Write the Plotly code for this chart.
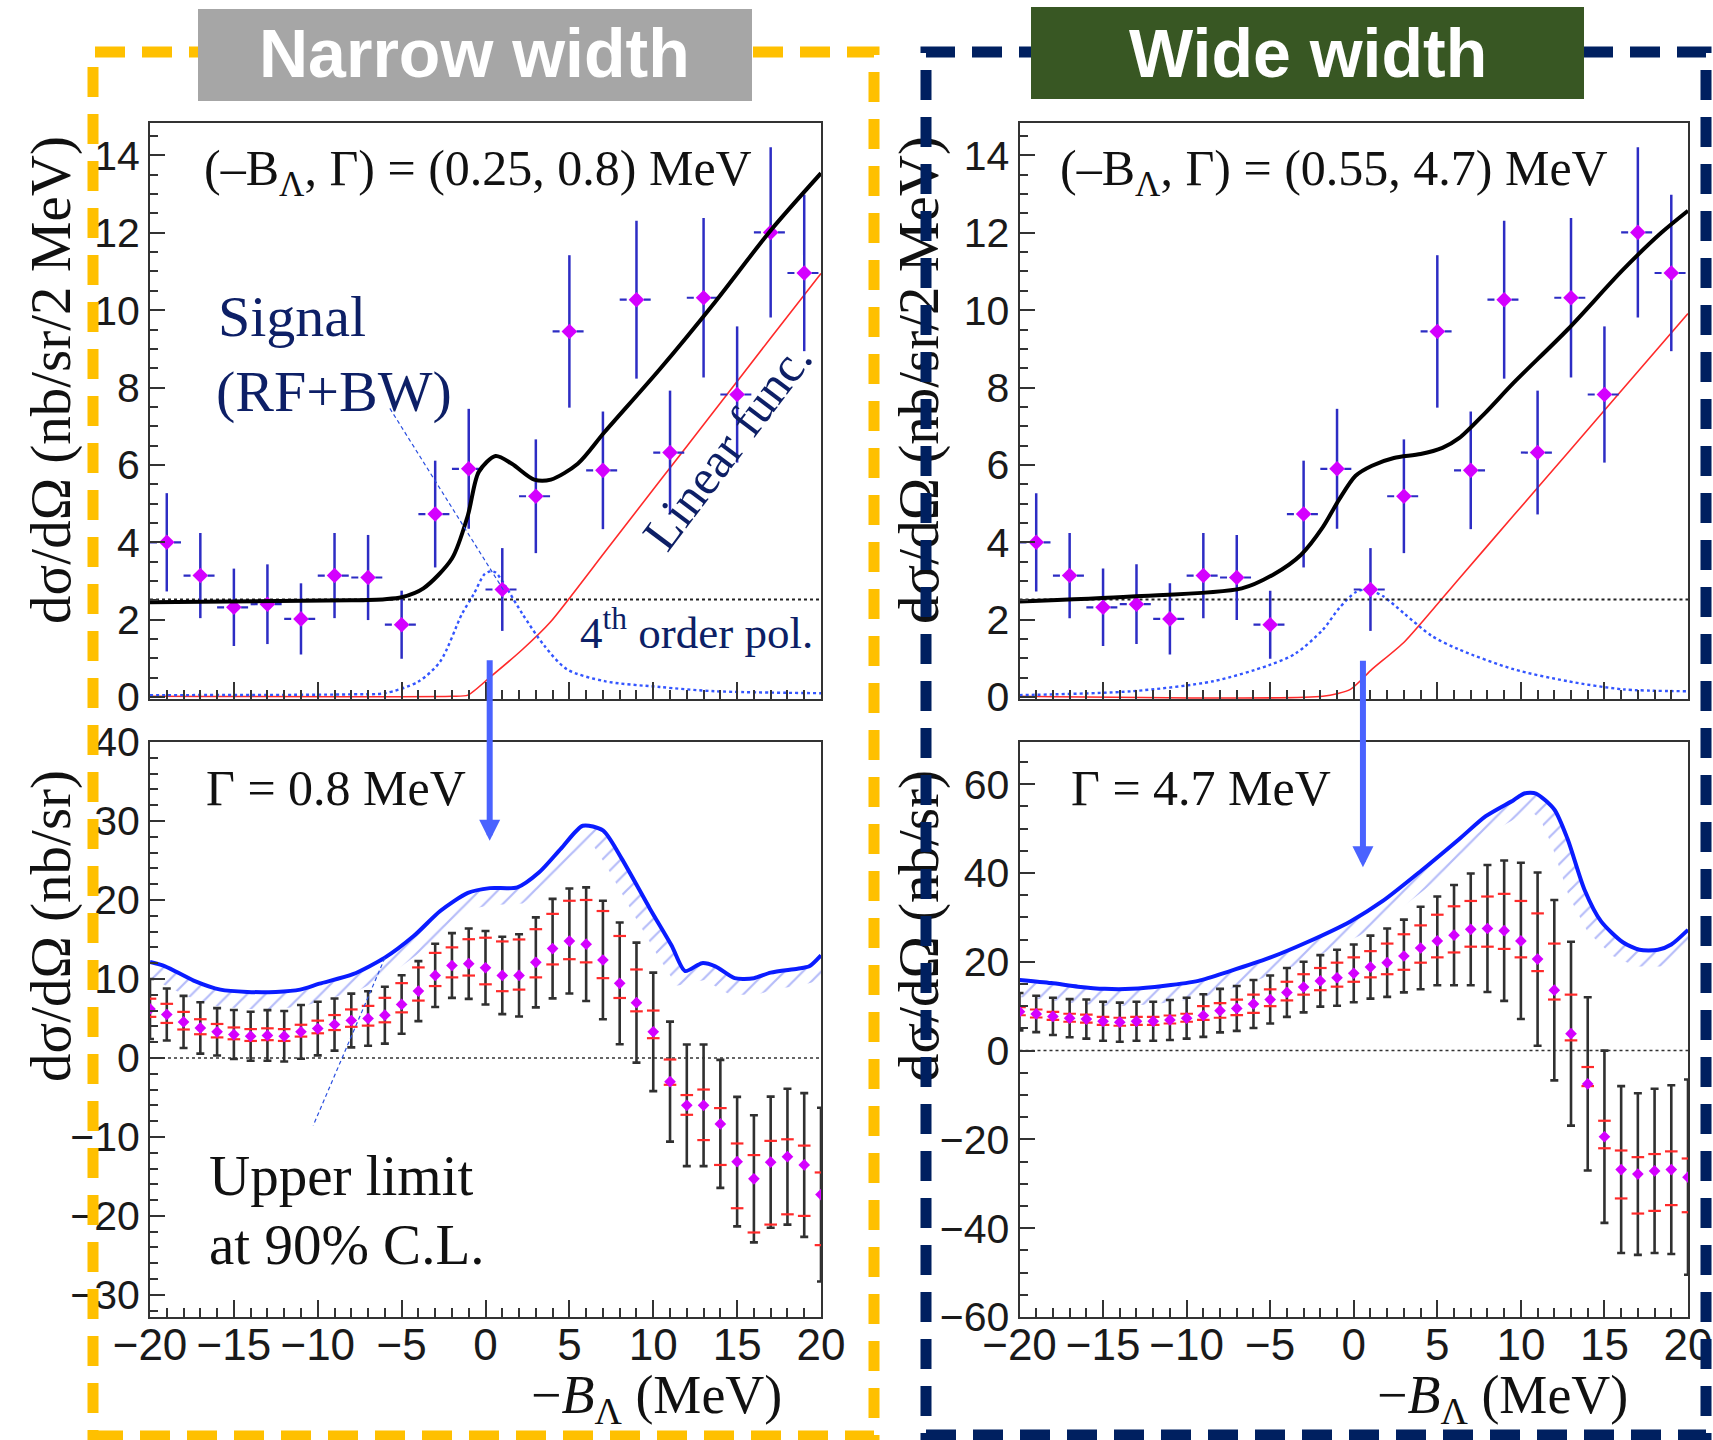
import numpy as np
import plotly.graph_objects as go

W, H = 1713, 1440

# ---------------- measured spectrum (2 MeV bins), same data in both fits
spec_x = [-19, -17, -15, -13, -11, -9, -7, -5, -3, -1, 1, 3, 5, 7, 9, 11, 13, 15, 17, 19]
spec_y = [4.00, 3.14, 2.32, 2.40, 2.02, 3.14, 3.09, 1.87, 4.73, 5.90,
          2.78, 5.19, 9.45, 5.86, 10.27, 6.32, 10.32, 7.82, 12.01, 10.96]
spec_err = [1.27, 1.10, 1.00, 1.03, 0.92, 1.10, 1.10, 0.88, 1.38, 1.55,
            1.07, 1.47, 1.97, 1.52, 2.04, 1.60, 2.06, 1.76, 2.20, 2.02]
bin_half = 1.0

# 4th-order polynomial background (flat over the window)
pol4_x = [-20, 20]
pol4_y = [2.52, 2.52]

# ---------------- narrow-width fit: (-B, Gamma) = (0.25, 0.8) MeV
nw_fit_x = [-20, -8, -6, -5, -3.7, -2.0, -1.05, -0.4, 0.6, 1.57, 2.9, 3.9, 5.5, 7.1, 10.4, 13.7, 17.0, 20]
nw_fit_y = [2.45, 2.50, 2.53, 2.58, 2.81, 3.58, 4.70, 5.82, 6.23, 6.03, 5.62, 5.62, 6.03, 6.85, 8.48, 10.22, 12.06, 13.54]
nw_lin_x = [-20, -2.0, -1.05, 0.26, 2.2, 3.87, 7.15, 10.4, 13.7, 17.0, 20]
nw_lin_y = [0.02, 0.02, 0.05, 0.51, 1.23, 1.94, 3.77, 5.59, 7.43, 9.28, 10.95]
nw_sig_x = [-20, -8, -6, -4, -2.7, -1.4, -0.7, -0.07, 0.3, 0.6, 1.2, 2.2, 3.5, 4.85, 7.1, 10.4, 13.7, 20]
nw_sig_y = [0.05, 0.07, 0.10, 0.40, 0.92, 2.15, 2.66, 3.17, 3.25, 3.22, 2.86, 2.15, 1.33, 0.72, 0.41, 0.26, 0.15, 0.10]

# ---------------- wide-width fit: (-B, Gamma) = (0.55, 4.7) MeV
ww_fit_x = [-20, -13.3, -6.7, -4.8, -3.15, -1.85, -0.87, 0.11, 1.09, 2.4, 4.0, 5.3, 6.3, 7.9, 9.56, 12.8, 16.1, 18.4, 20]
ww_fit_y = [2.47, 2.60, 2.81, 3.17, 3.68, 4.39, 5.11, 5.72, 5.98, 6.18, 6.28, 6.44, 6.69, 7.36, 8.12, 9.50, 11.04, 12.00, 12.57]
ww_lin_x = [-20, -1.85, -0.2, 1.1, 3.04, 6.3, 9.56, 12.8, 16.1, 20]
ww_lin_y = [0.02, 0.02, 0.20, 0.72, 1.43, 3.06, 4.69, 6.31, 7.96, 9.91]
ww_sig_x = [-20, -13.3, -8.4, -5.1, -3.5, -1.85, -0.87, 0.11, 0.76, 1.74, 3.04, 4.67, 6.3, 9.56, 12.8, 16.1, 20]
ww_sig_y = [0.05, 0.15, 0.41, 0.82, 1.12, 1.74, 2.30, 2.71, 2.78, 2.61, 2.15, 1.58, 1.23, 0.72, 0.41, 0.20, 0.15]

# ---------------- signal cross sections vs assumed -B (1 MeV steps)
scan_x = list(range(-20, 21))

nw_cs = [6.2, 5.5, 4.56, 3.8, 3.3, 2.96, 2.75, 2.85, 2.75, 3.3,
         3.72, 4.23, 4.74, 4.99, 5.41, 6.77, 8.46, 10.45, 11.7, 11.93,
         11.42, 10.45, 10.45, 12.1, 13.84, 14.8, 14.4, 12.4, 9.44, 7.0,
         3.3, -3.0, -6.0, -6.0, -8.35, -13.13, -15.3, -13.2, -12.5, -13.55, -17.3]
nw_stat = [3.8, 3.3, 3.3, 3.25, 3.0, 3.1, 3.1, 3.2, 3.2, 3.4,
           3.4, 3.3, 3.4, 3.45, 3.6, 3.7, 3.8, 4.0, 4.1, 4.45,
           4.65, 4.9, 5.2, 5.7, 6.3, 6.65, 7.2, 7.5, 7.7, 7.6,
           7.5, 7.6, 7.7, 7.7, 8.1, 8.2, 8.05, 8.3, 8.6, 9.1, 11.0]
nw_sys_up = [1.3, 1.35, 1.27, 1.1, 1.0, 0.9, 0.9, 0.9, 0.9, 0.9,
             1.0, 1.2, 1.4, 1.6, 2.2, 2.7, 3.0, 2.85, 2.3, 3.1,
             3.8, 4.3, 4.55, 4.2, 4.4, 5.1, 5.6, 6.2, 6.0, 4.2,
             2.7, 2.8, 1.3, 2.0, 2.0, 2.3, 3.0, 2.7, 2.2, 2.45, 2.8]
nw_sys_dn = [1.0, 1.07, 0.96, 0.8, 0.7, 0.6, 0.6, 0.6, 0.6, 0.6,
             0.6, 0.7, 0.8, 0.9, 0.9, 1.0, 1.2, 1.35, 1.5, 1.5,
             2.1, 2.0, 1.8, 1.9, 2.0, 2.3, 2.3, 2.3, 1.85, 1.1,
             0.8, 0.4, 1.2, 4.4, 5.2, 5.9, 6.8, 7.9, 7.3, 6.45, 6.4]
nw_ul_x = [-20, -19.1, -17.4, -15.8, -14.2, -12.5, -11.05, -9.9, -7.9, -6.0, -4.3, -2.7, -1.05, 0.26, 1.9,
           3.2, 4.5, 5.8, 7.0, 8.1, 9.8, 11.1, 11.9, 12.9, 13.7, 14.85, 16.0, 17.0, 18.6, 19.3, 20]
nw_ul_y = [12.15, 11.6, 9.8, 8.65, 8.36, 8.36, 8.65, 9.4, 10.6, 12.7, 15.4, 18.6, 20.9, 21.5, 21.6,
           23.5, 26.5, 29.4, 28.8, 25.3, 18.9, 14.2, 11.0, 12.0, 11.6, 10.1, 10.1, 10.8, 11.3, 11.6, 13.0]

ww_cs = [8.76, 8.25, 7.7, 7.3, 7.1, 6.6, 6.4, 6.6, 6.6, 6.9,
         7.3, 7.9, 9.0, 9.5, 10.5, 11.5, 13.1, 14.3, 15.7, 16.4,
         17.4, 18.8, 19.8, 21.3, 23.1, 24.7, 26.0, 27.3, 27.5, 27.0,
         24.7, 20.6, 13.6, 3.8, -7.5, -19.4, -26.8, -27.8, -27.1, -26.8, -28.5]
ww_stat = [4.2, 4.1, 4.2, 4.3, 4.4, 4.4, 4.4, 4.4, 4.4, 4.5,
           4.6, 4.8, 4.9, 5.05, 5.4, 5.4, 5.5, 5.7, 5.8, 6.3,
           6.5, 7.1, 7.7, 8.2, 9.3, 10.0, 11.3, 12.6, 14.3, 15.8,
           17.6, 19.5, 20.3, 20.7, 19.5, 19.4, 18.8, 18.2, 18.5, 19.0, 22.0]
ww_sys_up = [1.0, 1.0, 1.0, 1.0, 1.0, 1.0, 1.0, 1.0, 1.0, 1.0,
             1.0, 2.1, 1.7, 2.0, 2.1, 2.3, 2.4, 2.9, 2.9, 3.4,
             3.6, 3.6, 4.3, 4.9, 5.1, 5.9, 6.5, 6.4, 7.2, 8.3,
             9.0, 10.3, 10.5, 8.8, 3.8, 3.6, 4.3, 3.8, 3.8, 4.1, 4.2]
ww_sys_dn = [0.8, 0.8, 0.8, 0.8, 0.8, 0.8, 0.8, 0.8, 0.8, 0.8,
             0.8, 1.0, 1.6, 1.5, 2.0, 1.5, 1.8, 1.7, 2.1, 2.0,
             1.9, 2.3, 2.6, 3.1, 3.3, 3.7, 3.9, 3.9, 4.1, 4.1,
             3.7, 2.7, 2.1, 1.5, 0.5, 2.6, 6.5, 8.9, 9.0, 8.0, 7.9]
ww_ul_x = [-20, -18.1, -16.5, -14.9, -13.3, -11.3, -9.3, -7.4, -5.1, -2.8, -0.2, 1.74, 4.0, 6.3,
           7.9, 9.56, 10.2, 10.9, 12.0, 12.8, 13.8, 14.8, 16.1, 17.1, 18.2, 19.0, 20]
ww_ul_y = [15.9, 15.2, 14.4, 13.9, 13.9, 14.6, 15.7, 17.9, 20.8, 24.4, 29.1, 33.7, 40.4, 47.6,
           52.8, 56.4, 57.9, 57.9, 54.3, 47.6, 36.3, 29.1, 24.4, 22.7, 22.7, 23.9, 27.2]

zero_x = [-20, 20]
zero_y = [0, 0]

# fitted peak positions (-B) used for the arrows
nw_peak = 0.25
ww_peak = 0.55

# ---------------- layout geometry (pixels)
X_L = (150, 821)
X_R = (1019.5, 1688)
Y_TOP = (122.5, 699)
Y_BOT = (742, 1317)
TOP_RANGE = [-0.05, 14.85]
BL_RANGE = [-32.8, 40]
BR_RANGE = [-60, 69.5]


def px(x):
    return x / W


def py(y):
    return 1 - y / H


MAG = '#d400ff'
SERIF = 'Liberation Serif'
SANS = 'Liberation Sans'
NAVY = '#0d1f66'

fig = go.Figure()


def hatch_outline(xs, ys, x_span, px_per_unit_y, depth):
    """Closed outline of a band of given pixel depth on the lower side of a curve."""
    sx = (x_span[1] - x_span[0]) / 40.0
    sy = px_per_unit_y
    X = np.asarray(xs, float) * sx
    Y = np.asarray(ys, float) * sy
    tx = np.gradient(X)
    ty = np.gradient(Y)
    n = np.hypot(tx, ty)
    ox = X + depth * ty / n
    oy = Y - depth * tx / n
    bx = np.concatenate([X, ox[::-1], X[:1]]) / sx
    by = np.concatenate([Y, oy[::-1], Y[:1]]) / sy
    return bx, by


def add_top(xa, ya, fit_x, fit_y, lin_x, lin_y, sig_x, sig_y):
    fig.add_trace(go.Scatter(x=lin_x, y=lin_y, mode='lines', xaxis=xa, yaxis=ya,
                             line=dict(color='#ff2a2a', width=1.6, shape='spline', smoothing=0.6)))
    fig.add_trace(go.Scatter(x=sig_x, y=sig_y, mode='lines', xaxis=xa, yaxis=ya,
                             line=dict(color='#3355ff', width=2.4, dash='dot', shape='spline', smoothing=0.8)))
    fig.add_trace(go.Scatter(x=pol4_x, y=pol4_y, mode='lines', xaxis=xa, yaxis=ya,
                             line=dict(color='#222222', width=2, dash='dot')))
    hx, hy = [], []
    for xc, yc in zip(spec_x, spec_y):
        hx += [xc - bin_half, xc + bin_half, None]
        hy += [yc, yc, None]
    fig.add_trace(go.Scatter(x=hx, y=hy, mode='lines', xaxis=xa, yaxis=ya,
                             line=dict(color='#2d2dc4', width=2.2, dash='7px,5px')))
    fig.add_trace(go.Scatter(x=spec_x, y=spec_y, mode='markers', xaxis=xa, yaxis=ya,
                             marker=dict(symbol='diamond', size=12, color=MAG),
                             error_y=dict(type='data', array=spec_err, color='#2d2dc4',
                                          thickness=2.5, width=0)))
    fig.add_trace(go.Scatter(x=fit_x, y=fit_y, mode='lines', xaxis=xa, yaxis=ya,
                             line=dict(color='black', width=4, shape='spline', smoothing=0.8)))


def add_bottom(xa, ya, ul_x, ul_y, cs, stat, sys_up, sys_dn, yrange):
    unit_y = (Y_BOT[1] - Y_BOT[0]) / (yrange[1] - yrange[0])
    bx, by = hatch_outline(ul_x, ul_y, X_L, unit_y, 17)
    fig.add_trace(go.Scatter(x=bx, y=by, mode='lines', xaxis=xa, yaxis=ya, fill='toself',
                             fillcolor='rgba(0,0,0,0)', line=dict(width=0, color='rgba(0,0,0,0)'),
                             fillpattern=dict(shape='/', fgcolor='rgba(80,95,240,0.85)',
                                              bgcolor='rgba(255,255,255,0)', size=13, solidity=0.17)))
    fig.add_trace(go.Scatter(x=zero_x, y=zero_y, mode='lines', xaxis=xa, yaxis=ya,
                             line=dict(color='#333333', width=1.5, dash='dot')))
    fig.add_trace(go.Scatter(x=ul_x, y=ul_y, mode='lines', xaxis=xa, yaxis=ya,
                             line=dict(color='#0a1cff', width=4, shape='spline', smoothing=0.7)))
    # statistical errors
    fig.add_trace(go.Scatter(x=scan_x, y=cs, mode='markers', xaxis=xa, yaxis=ya,
                             marker=dict(size=1, color='rgba(0,0,0,0)'),
                             error_y=dict(type='data', array=stat, color='#303030',
                                          thickness=2.6, width=4)))
    # systematic errors as bracket caps
    sys_hi = [c + u for c, u in zip(cs, sys_up)]
    sys_lo = [c - d for c, d in zip(cs, sys_dn)]
    fig.add_trace(go.Scatter(x=scan_x + scan_x, y=sys_hi + sys_lo, mode='markers', xaxis=xa, yaxis=ya,
                             marker=dict(symbol='line-ew', size=9, color='#ff2a2a',
                                         line=dict(color='#ff2a2a', width=2.2))))
    fig.add_trace(go.Scatter(x=scan_x, y=cs, mode='markers', xaxis=xa, yaxis=ya,
                             marker=dict(symbol='diamond', size=9, color=MAG)))


add_top('x', 'y', nw_fit_x, nw_fit_y, nw_lin_x, nw_lin_y, nw_sig_x, nw_sig_y)
add_top('x2', 'y2', ww_fit_x, ww_fit_y, ww_lin_x, ww_lin_y, ww_sig_x, ww_sig_y)
add_bottom('x3', 'y3', nw_ul_x, nw_ul_y, nw_cs, nw_stat, nw_sys_up, nw_sys_dn, BL_RANGE)
add_bottom('x4', 'y4', ww_ul_x, ww_ul_y, ww_cs, ww_stat, ww_sys_up, ww_sys_dn, BR_RANGE)

# pointer lines from the labels to the curves
sig_ptr_x = [-5.7, 1.08]
sig_ptr_y = [7.46, 2.76]
ul_ptr_x = [-6.0, -10.27]
ul_ptr_y = [12.66, -8.56]
fig.add_trace(go.Scatter(x=sig_ptr_x, y=sig_ptr_y, mode='lines', xaxis='x', yaxis='y',
                         line=dict(color='#2a4fe0', width=1.2, dash='4px,3px')))
fig.add_trace(go.Scatter(x=ul_ptr_x, y=ul_ptr_y, mode='lines', xaxis='x3', yaxis='y3',
                         line=dict(color='#2a4fe0', width=1.2, dash='4px,3px')))

frame = dict(showline=True, linewidth=2, linecolor='#333333', mirror=True,
             showgrid=False, zeroline=False, ticks='inside', tickcolor='#333333',
             tickwidth=2, fixedrange=True)


def xax(dom, labels):
    d = dict(domain=[px(dom[0]), px(dom[1])], range=[-20, 20], dtick=5, tick0=0, ticklen=17,
             minor=dict(ticks='inside', ticklen=9, tickwidth=1.5, tickcolor='#333333', dtick=1),
             showticklabels=labels, tickfont=dict(family=SANS, size=44, color='#1a1a1a'), **frame)
    if labels:
        d['ticklabelstandoff'] = -12
    return d


def yax(dom, rng, dtick, mdtick, anchor):
    return dict(domain=[py(dom[1]), py(dom[0])], range=rng, dtick=dtick, tick0=0, ticklen=15,
                minor=dict(ticks='inside', ticklen=8, tickwidth=1.5, tickcolor='#333333', dtick=mdtick),
                anchor=anchor, tickfont=dict(family=SANS, size=41, color='#1a1a1a'), **frame)


layout = dict(
    width=W, height=H, margin=dict(l=0, r=0, t=0, b=0, autoexpand=False),
    paper_bgcolor='white', plot_bgcolor='white', showlegend=False,
    xaxis=dict(anchor='y', **xax(X_L, False)),
    xaxis2=dict(anchor='y2', **xax(X_R, False)),
    xaxis3=dict(anchor='y3', **xax(X_L, True)),
    xaxis4=dict(anchor='y4', **xax(X_R, True)),
    yaxis=yax(Y_TOP, TOP_RANGE, 2, 0.5, 'x'),
    yaxis2=yax(Y_TOP, TOP_RANGE, 2, 0.5, 'x2'),
    yaxis3=yax(Y_BOT, BL_RANGE, 10, 2, 'x3'),
    yaxis4=yax(Y_BOT, BR_RANGE, 20, 5, 'x4'),
)
fig.update_layout(**layout)

# ---------------- shapes: y titles (as shape labels, so the borders sit over them), borders, header boxes
shapes = []


def ytitle(cx, cy, text):
    shapes.append(dict(type='rect', xref='paper', yref='paper',
                       x0=px(cx - 30), x1=px(cx + 30), y0=py(cy + 270), y1=py(cy - 270),
                       line=dict(width=0, color='rgba(0,0,0,0)'), fillcolor='rgba(0,0,0,0)',
                       label=dict(text=text, textangle=-90, textposition='middle center',
                                  font=dict(family=SERIF, size=57, color='#111111'))))


ytitle(45, 380, 'dσ/dΩ (nb/sr/2 MeV)')
ytitle(45, 926, 'dσ/dΩ (nb/sr)')
ytitle(913, 380, 'dσ/dΩ (nb/sr/2 MeV)')
ytitle(913, 926, 'dσ/dΩ (nb/sr)')

shapes.append(dict(type='rect', xref='paper', yref='paper',
                   x0=px(93), x1=px(874), y0=py(1436), y1=py(52),
                   line=dict(color='#ffc000', width=11, dash='30px,17px'), fillcolor='rgba(0,0,0,0)'))
shapes.append(dict(type='rect', xref='paper', yref='paper',
                   x0=px(926), x1=px(1706), y0=py(1435), y1=py(52),
                   line=dict(color='#002060', width=11, dash='30px,17px'), fillcolor='rgba(0,0,0,0)'))
shapes.append(dict(type='rect', xref='paper', yref='paper',
                   x0=px(198), x1=px(752), y0=py(101), y1=py(9),
                   line=dict(width=0), fillcolor='#a6a6a6'))
shapes.append(dict(type='rect', xref='paper', yref='paper',
                   x0=px(1031), x1=px(1584), y0=py(99), y1=py(7),
                   line=dict(width=0), fillcolor='#385723'))
fig.update_layout(shapes=shapes)

# ---------------- annotations
ann = []


def text(x, y, s, size, color='#111111', xanchor='left', family=SERIF, angle=0):
    ann.append(dict(x=px(x), y=py(y), xref='paper', yref='paper', text=s, showarrow=False,
                    xanchor=xanchor, yanchor='middle', textangle=angle,
                    font=dict(family=family, size=size, color=color)))


text(475, 53, '<b>Narrow width</b>', 68, 'white', 'center', SANS)
text(1308, 53, '<b>Wide width</b>', 68, 'white', 'center', SANS)

text(202, 172, '(–B<sub>Λ</sub>, Γ) = (0.25, 0.8) MeV', 50)
text(1058, 172, '(–B<sub>Λ</sub>, Γ) = (0.55, 4.7) MeV', 50)
text(204, 788, 'Γ = 0.8 MeV', 50)
text(1069, 788, 'Γ = 4.7 MeV', 50)

text(216, 316, 'Signal', 58, NAVY)
text(214, 392, '(RF+BW)', 58, NAVY)
text(727, 446, 'Linear func.', 50, NAVY, 'center', SERIF, -53)
text(578, 629, '4<sup>th</sup> order pol.', 45, NAVY)
text(207, 1175, 'Upper limit', 57)
text(207, 1244, 'at 90% C.L.', 57)

text(784, 1398, '−<i>B</i><sub>Λ</sub> (MeV)', 54, '#111111', 'right')
text(1630, 1398, '−<i>B</i><sub>Λ</sub> (MeV)', 54, '#111111', 'right')

# arrows from the fitted peak position down to the cross-section scans
ann.append(dict(x=nw_peak, y=27.5, xref='x3', yref='y3', text='', showarrow=True,
                ax=0, ay=-182, arrowhead=2, arrowsize=0.7, arrowwidth=6, arrowcolor='#4a63ff',
                standoff=0))
ann.append(dict(x=ww_peak, y=41.3, xref='x4', yref='y4', text='', showarrow=True,
                ax=0, ay=-208, arrowhead=2, arrowsize=0.7, arrowwidth=6, arrowcolor='#4a63ff',
                standoff=0))

fig.update_layout(annotations=ann)

fig.write_html("out.html")
